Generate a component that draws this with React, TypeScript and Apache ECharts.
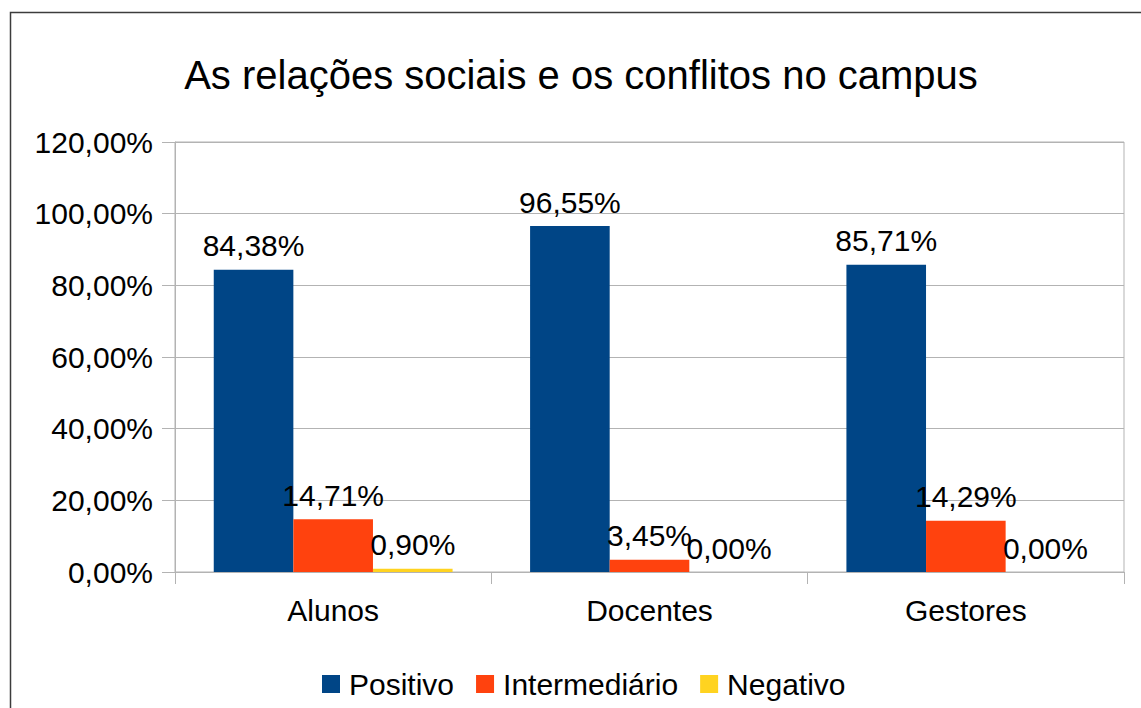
import React, { useEffect, useRef } from "react";
import * as echarts from "echarts";

const categories = ["Alunos", "Docentes", "Gestores"];
const positivo = [84.38, 96.55, 85.71];
const intermediario = [14.71, 3.45, 14.29];
const negativo = [0.9, 0.0, 0.0];
const seriesNames = ["Positivo", "Intermediário", "Negativo"];
const colors = ["#004586", "#ff420e", "#ffd320"];
const titleText = "As relações sociais e os conflitos no campus";

const FONT = "Liberation Sans, Arial, sans-serif";
const fmt = (v: number) => v.toFixed(2).replace(".", ",") + "%";

export default function App() {
  const ref = useRef<HTMLDivElement>(null);
  useEffect(() => {
    const chart = echarts.init(ref.current!, null, { renderer: "svg" });
    const mk = (name: string, data: number[], color: string) => ({
      name,
      type: "bar",
      data,
      barGap: "0%",
      barCategoryGap: "24.5%",
      itemStyle: { color },
      label: {
        show: true,
        position: "top",
        distance: 9,
        color: "#000",
        fontFamily: FONT,
        fontSize: 30,
        formatter: (p: any) => fmt(p.value),
      },
    });
    chart.setOption({
      animation: false,
      backgroundColor: "#fff",
      title: {
        text: titleText,
        left: 576,
        top: 50,
        textAlign: "center",
        textStyle: { fontFamily: FONT, fontSize: 40, fontWeight: "normal", color: "#000" },
      },
      graphic: [
        {
          type: "rect",
          shape: { x: 10.5, y: 12.5, width: 1300, height: 900 },
          style: { fill: "none", stroke: "#3c3c3c", lineWidth: 1.5 },
          silent: true,
        },
      ],
      legend: {
        bottom: 4,
        left: 317,
        itemWidth: 18,
        itemHeight: 18,
        itemGap: 22,
        icon: "rect",
        textStyle: { fontFamily: FONT, fontSize: 30, color: "#000", padding: [0, 0, 0, 4] },
        data: seriesNames,
      },
      grid: {
        left: 175,
        right: 17,
        top: 142,
        bottom: 136,
        show: true,
        borderColor: "#b3b3b3",
        borderWidth: 1,
      },
      xAxis: {
        type: "category",
        data: categories,
        axisLine: { lineStyle: { color: "#b3b3b3" } },
        axisTick: { show: true, length: 12, lineStyle: { color: "#b3b3b3" } },
        axisLabel: { color: "#000", fontFamily: FONT, fontSize: 30, margin: 23 },
      },
      yAxis: {
        type: "value",
        min: 0,
        max: 120,
        interval: 20,
        axisLine: { show: true, lineStyle: { color: "#b3b3b3" } },
        axisTick: { show: true, length: 13, lineStyle: { color: "#b3b3b3" } },
        splitLine: { lineStyle: { color: "#b3b3b3" } },
        axisLabel: {
          color: "#000",
          fontFamily: FONT,
          fontSize: 30,
          margin: 22,
          formatter: (v: number) => fmt(v),
        },
      },
      series: [
        mk(seriesNames[0], positivo, colors[0]),
        mk(seriesNames[1], intermediario, colors[1]),
        mk(seriesNames[2], negativo, colors[2]),
      ],
    });
    return () => chart.dispose();
  }, []);
  return (
    <div
      ref={ref}
      style={{ position: "fixed", left: 0, top: 0, width: 1141, height: 708 }}
    />
  );
}
